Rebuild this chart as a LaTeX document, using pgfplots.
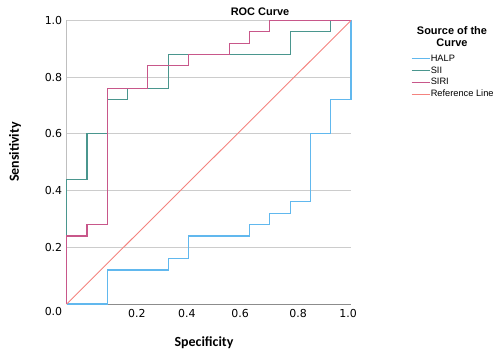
\documentclass[border=0pt]{standalone}
\usepackage{pgfplots}
\pgfplotsset{compat=1.18}
\usepackage{fontspec}
\setmainfont{Liberation Sans}
\newfontfamily\calibri{Carlito}
\newfontfamily\tickfont{DejaVu Sans}
\definecolor{halp}{HTML}{61B8EE}
\definecolor{sii}{HTML}{4A968E}
\definecolor{siri}{HTML}{C8578A}
\definecolor{refl}{HTML}{F4837F}
\begin{document}
\begin{tikzpicture}
\path (0bp,0bp) rectangle (502bp,357bp);
\begin{axis}[
  at={(66.7bp,53bp)}, anchor=south west,
  scale only axis, width=284.3bp, height=283.5bp,
  xmin=0, xmax=1, ymin=0, ymax=1,
  clip=false,
  axis x line*=bottom, axis y line*=left,
  x axis line style={color=black!45, line width=0.9bp},
  y axis line style={color=black!25, line width=0.8bp},
  major tick length=0pt,
  ytick={0,0.2,0.4,0.6,0.8,1},
  yticklabels={\raisebox{-11.5bp}[0pt][0pt]{0.0},0.2,0.4,0.6,0.8,1.0},
  xtick={0.247,0.423,0.61,0.814,0.99},
  xticklabels={0.2,0.4,0.6,0.8,1.0},
  ticklabel style={font=\tickfont\fontsize{11}{13}\selectfont},
  xticklabel style={yshift=-2bp},
  yticklabel style={xshift=-1bp},
  ymajorgrids, grid style={color=black!20, line width=0.8bp},
  legend style={draw=none, fill=none, inner sep=0pt,
    at={(axis description cs:1.211,0.8025)}, anchor=west,
    font=\fontsize{9.3}{11}\selectfont,
    nodes={inner sep=0.5bp, text height=7bp, text depth=2bp},
    row sep=1.7bp},
  legend cell align=left,
  legend image code/.code={\draw[#1] (0bp,0bp) -- (18bp,0bp);},
]
\addplot[halp, line width=1.1bp] coordinates {
(0,0) (0.142857,0) (0.142857,0.12) (0.357143,0.12) (0.357143,0.16)
(0.428571,0.16) (0.428571,0.24) (0.642857,0.24) (0.642857,0.28)
(0.714286,0.28) (0.714286,0.32) (0.785714,0.32) (0.785714,0.36)
(0.857143,0.36) (0.857143,0.6) (0.928571,0.6) (0.928571,0.72)
(1,0.72) (1,1)};
\addlegendentry{HALP}
\addplot[sii, line width=1.1bp] coordinates {
(0,0) (0,0.44) (0.071429,0.44) (0.071429,0.6) (0.142857,0.6)
(0.142857,0.72) (0.214286,0.72) (0.214286,0.76) (0.357143,0.76)
(0.357143,0.88) (0.785714,0.88) (0.785714,0.96) (0.928571,0.96)
(0.928571,1) (1,1)};
\addlegendentry{SII}
\addplot[siri, line width=1.1bp] coordinates {
(0,0) (0,0.24) (0.071429,0.24) (0.071429,0.28) (0.142857,0.28)
(0.142857,0.76) (0.285714,0.76) (0.285714,0.84) (0.428571,0.84)
(0.428571,0.88) (0.571429,0.88) (0.571429,0.92) (0.642857,0.92)
(0.642857,0.96) (0.714286,0.96) (0.714286,1) (1,1)};
\addlegendentry{SIRI}
\addplot[refl, line width=0.9bp] coordinates {(0,0) (1,1)};
\addlegendentry{Reference Line}
\end{axis}
\node[font=\bfseries\fontsize{11}{13}\selectfont] at (260bp,345bp) {ROC Curve};
\node[font=\calibri\bfseries\fontsize{14}{16}\selectfont] at (204bp,14bp) {Specificity};
\node[font=\calibri\bfseries\fontsize{14}{16}\selectfont, rotate=90] at (15bp,205bp) {Sensitivity};
\node[font=\bfseries\fontsize{11}{12}\selectfont, align=center] at (452bp,320bp) {Source of the\\Curve};
\end{tikzpicture}
\end{document}
